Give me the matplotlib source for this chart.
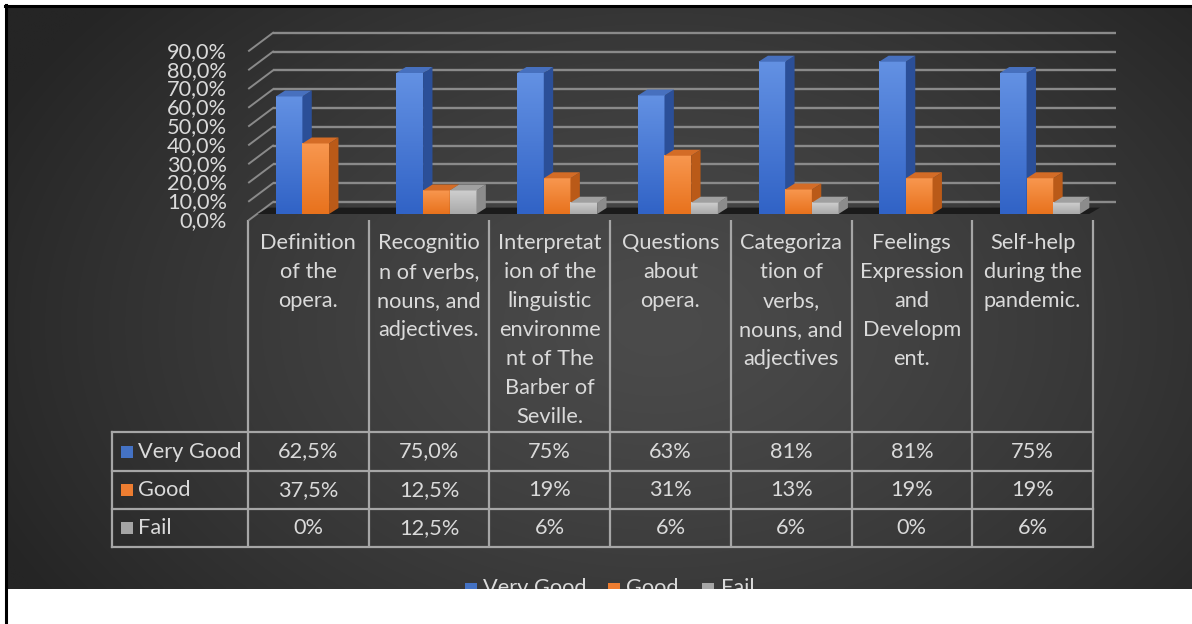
import numpy as np
import matplotlib
matplotlib.use("Agg")
import matplotlib.pyplot as plt
from matplotlib.patches import Rectangle, Polygon
from matplotlib.transforms import blended_transform_factory, ScaledTranslation

# ---------------- data ----------------
categories = [
    "Definition\nof the\nopera.",
    "Recognitio\nn of verbs,\nnouns, and\nadjectives.",
    "Interpretat\nion of the\nlinguistic\nenvironme\nnt of The\nBarber of\nSeville.",
    "Questions\nabout\nopera.",
    "Categoriza\ntion of\nverbs,\nnouns, and\nadjectives",
    "Feelings\nExpression\nand\nDevelopm\nent.",
    "Self-help\nduring the\npandemic.",
]
series_names = ["Very Good", "Good", "Fail"]
very_good = [62.5, 75.0, 75, 63, 81, 81, 75]
good = [37.5, 12.5, 19, 31, 13, 19, 19]
fail = [0, 12.5, 6, 6, 6, 0, 6]
decimals = [1, 1, 0, 0, 0, 0, 0]          # number format of each table column
y_ticks = [0, 10, 20, 30, 40, 50, 60, 70, 80, 90]
y_tick_labels = ["0,0%", "10,0%", "20,0%", "30,0%", "40,0%", "50,0%",
                 "60,0%", "70,0%", "80,0%", "90,0%"]

series = [very_good, good, fail]

# ---------------- style ----------------
FONT = "Lato"
FS = 15.7
TXT = "#DADADA"
GRID = "#8A8A8A"
TABLE_LINE = "#A6A6A6"
front_top = ["#6391E3", "#F8974F", "#CFCFCF"]
front_bot = ["#3163C6", "#E8721D", "#A9A9A9"]
side_col = ["#2B4F98", "#BA5A18", "#8C8C8C"]
top_col = ["#4770BE", "#D46C26", "#A0A0A0"]
marker_col = ["#4472C4", "#ED7D31", "#A5A5A5"]

W_PX, H_PX = 1192, 624
fig = plt.figure(figsize=(W_PX / 100, H_PX / 100), dpi=100)
fig.patch.set_facecolor("white")

# background axes in pixel coordinates
bg = fig.add_axes([0, 0, 1, 1])
bg.set_xlim(0, W_PX)
bg.set_ylim(H_PX, 0)
bg.axis("off")

# radial dark gradient
gx = np.linspace(0, 1, 600)
gy = np.linspace(0, 1, 300)
GX, GY = np.meshgrid(gx, gy)
r = np.sqrt(((GX - 0.55) / 0.62) ** 2 + ((GY - 0.55) / 0.85) ** 2)
r = np.clip(r, 0, 1)
lo, hi = 0x25 / 255, 0x4B / 255
val = hi - (hi - lo) * r ** 1.3
img = np.dstack([val, val, val])
bg.imshow(img, extent=(5, W_PX, 589, 5), origin="upper", aspect="auto",
          interpolation="bilinear", zorder=0)

# chart axes: category x, percent y
COL0, COLW, BASE, PXPCT = 248.0, 120.7, 214.0, 1.88
ax = fig.add_axes([COL0 / W_PX, (H_PX - BASE) / H_PX,
                   7 * COLW / W_PX, 90 * PXPCT / H_PX])
ax.set_xlim(-0.5, 6.5)
ax.set_ylim(0, 90)
ax.patch.set_alpha(0)
for s in ax.spines.values():
    s.set_visible(False)
ax.set_xticks([])
ax.set_yticks(y_ticks)
ax.set_yticklabels(y_tick_labels, fontfamily=FONT, fontsize=FS, color=TXT)
ax.tick_params(axis="y", length=0, pad=15)
shift = ScaledTranslation(0, -5 / 100, fig.dpi_scale_trans)
for lbl in ax.get_yticklabels():
    lbl.set_transform(lbl.get_transform() + shift)

px_x = 1 / COLW          # one pixel in x data units
px_y = 1 / PXPCT         # one pixel in y data units
BACK_DY = 12 * px_y
FRONT_DY = -6 * px_y
XB0 = -0.5 + 25 * px_x
XB1 = 6.5 + 23 * px_x

# back wall gridlines and left wall lines
for v in y_ticks:
    ax.plot([XB0, XB1], [v + BACK_DY, v + BACK_DY], color=GRID, lw=1.7,
            clip_on=False, zorder=1, solid_capstyle="butt")
    ax.plot([-0.5 + 1 * px_x, XB0], [v + FRONT_DY, v + BACK_DY], color=GRID,
            lw=1.4, clip_on=False, zorder=1)

# floor
DX = 9.4 * px_x
DY = 6.0 * px_y
floor = Polygon([(-0.42, 0), (6.47, 0), (6.47 + 0.09, 3.4), (-0.42 + 0.09, 3.4)],
                closed=True, facecolor="#1B1B1B", edgecolor="none",
                clip_on=False, zorder=2)
ax.add_patch(floor)

# 3D columns
BW = 0.221
offsets = [-0.16, 0.061, 0.282]
x = np.arange(len(categories))
grad = np.linspace(0, 1, 64).reshape(-1, 1)
for k, vals in enumerate(series):
    z = 3 + 4 * k
    bars = ax.bar(x + offsets[k], vals, width=BW, color=front_bot[k],
                  linewidth=0, zorder=z, clip_on=False)
    c0 = np.array(matplotlib.colors.to_rgb(front_top[k]))
    c1 = np.array(matplotlib.colors.to_rgb(front_bot[k]))
    gimg = (c0[None, None, :] * (1 - grad[:, :, None]) + c1[None, None, :] * grad[:, :, None])
    for b, v in zip(bars, vals):
        if v <= 0:
            continue
        xl = b.get_x()
        xr = xl + b.get_width()
        im = ax.imshow(gimg, extent=(xl, xr, 0, v), origin="upper",
                       aspect="auto", zorder=z + 0.5, clip_on=False)
        im.set_clip_path(b)
        side = Polygon([(xr, 0), (xr + DX, DY), (xr + DX, v + DY), (xr, v)],
                       closed=True, facecolor=side_col[k], edgecolor="none",
                       zorder=z + 1, clip_on=False)
        top = Polygon([(xl, v), (xr, v), (xr + DX, v + DY), (xl + DX, v + DY)],
                      closed=True, facecolor=top_col[k], edgecolor="none",
                      zorder=z + 2, clip_on=False)
        ax.add_patch(side)
        ax.add_patch(top)
ax.set_xlim(-0.5, 6.5)
ax.set_ylim(0, 90)

# ---------------- data table ----------------
tr = blended_transform_factory(ax.transData, bg.transData)
row_lines = [432, 471, 509, 547]
row_centers = [451.5, 490, 528]
LEFT_PX = 112
left_data = -0.5 + (LEFT_PX - COL0) * px_x

for i in range(len(categories) + 1):
    bg.plot([i - 0.5, i - 0.5], [220, row_lines[-1]], transform=tr,
            color=TABLE_LINE, lw=1.6, zorder=5, solid_capstyle="butt")
bg.plot([left_data, left_data], [row_lines[0], row_lines[-1]], transform=tr,
        color=TABLE_LINE, lw=1.6, zorder=5)
for yl in row_lines:
    bg.plot([left_data, len(categories) - 0.5], [yl, yl], transform=tr,
            color=TABLE_LINE, lw=1.6, zorder=5)

# category labels
for i, cat in enumerate(categories):
    for j, line in enumerate(cat.split("\n")):
        bg.text(i, 243 + 29 * j, line, transform=tr, ha="center", va="center",
                fontfamily=FONT, fontsize=FS, color=TXT, zorder=6)

# row headers and values
for k, name in enumerate(series_names):
    yc = row_centers[k]
    bg.add_patch(Rectangle((121, yc - 6), 12, 12, facecolor=marker_col[k],
                           edgecolor="none", zorder=6))
    bg.text(138, yc, name, ha="left", va="center", fontfamily=FONT,
            fontsize=FS, color=TXT, zorder=6)
    for i, v in enumerate(series[k]):
        if v == 0:
            s = "0%"
        else:
            s = f"{v:.{decimals[i]}f}".replace(".", ",") + "%"
        bg.text(i, yc, s, transform=tr, ha="center", va="center",
                fontfamily=FONT, fontsize=FS, color=TXT, zorder=6)

# ---------------- legend (cut off at the bottom) ----------------
leg_marker_x = [465, 608, 702]
leg_text_x = [483, 626, 721]
for k, name in enumerate(series_names):
    bg.add_patch(Rectangle((leg_marker_x[k], 583), 12, 12,
                           facecolor=marker_col[k], edgecolor="none", zorder=6))
    bg.text(leg_text_x[k], 594, name, ha="left", va="baseline",
            fontfamily=FONT, fontsize=FS, color=TXT, zorder=6)

bg.add_patch(Rectangle((7, 589), W_PX, 40, facecolor="white",
                       edgecolor="none", zorder=20))
# black frame (top and left)
bg.plot([5, W_PX], [6, 6], color="black", lw=2.2, zorder=21)
bg.plot([6, 6], [5, H_PX], color="black", lw=2.2, zorder=21)

fig.savefig("out.png", dpi=100, facecolor="white")
